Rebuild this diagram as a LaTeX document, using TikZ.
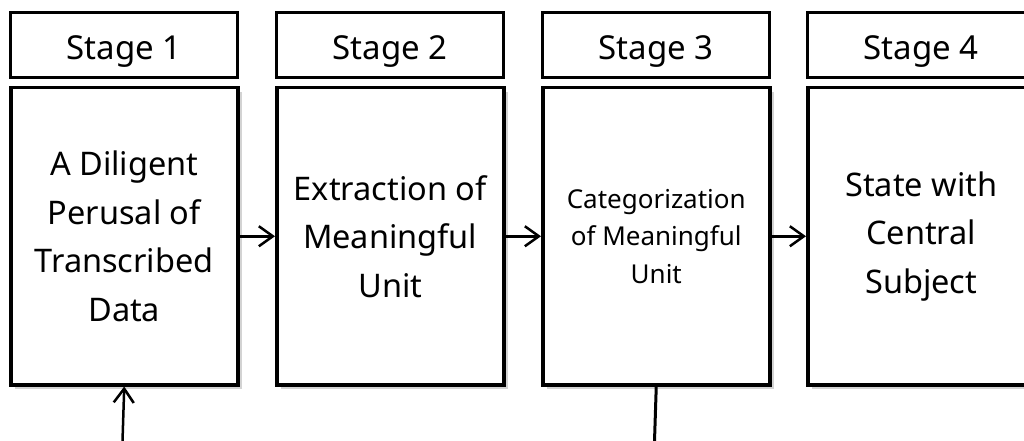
\documentclass[tikz,border=0pt]{standalone}
\usepackage{fontspec}
\setmainfont{Noto Sans}
\usetikzlibrary{arrows.meta,shadows}
\begin{document}
\begin{tikzpicture}[x=1pt,y=-1pt,
 hdr/.style={draw, line width=3pt, minimum width=227pt, minimum height=65pt, anchor=north west, inner sep=0pt, text height=33pt, text depth=4pt, font=\fontsize{33}{36}\selectfont},
 mainbox/.style={draw, fill=white, line width=3.5pt, minimum width=227pt, minimum height=297pt, anchor=north west, align=center, inner sep=0pt, font=\fontsize{32.5}{48.5}\selectfont, drop shadow={shadow xshift=4pt, shadow yshift=-4pt, opacity=0.35}},
 smalltext/.style={font=\fontsize{26}{37.5}\selectfont},
 conn/.style={line width=2.5pt, -{Straight Barb[length=14pt,width=20pt,line width=2.5pt]}},
 plain/.style={line width=3pt}]
\useasboundingbox (0,0) rectangle (1024,441);
\node[hdr] (h1) at (9,11) {Stage 1};
\node[hdr] (h2) at (275,11) {Stage 2};
\node[hdr] (h3) at (541,11) {Stage 3};
\node[hdr] (h4) at (806,11) {Stage 4};
\node[mainbox] (b1) at (9,86) {A Diligent\\Perusal of\\Transcribed\\Data};
\node[mainbox] (b2) at (275,86) {Extraction of\\Meaningful\\Unit};
\node[mainbox, smalltext] (b3) at (541,86) {Categorization\\of Meaningful\\Unit};
\node[mainbox] (b4) at (806,86) {State with\\Central\\Subject};
\draw[conn] (b1.east) -- (b2.west);
\draw[conn] (b2.east) -- (b3.west);
\draw[conn] (b3.east) -- (b4.west);
\coordinate (in1) at (122.5,441);
\coordinate (out3) at (654.5,441);
\draw[conn] (in1) -- (b1.south);
\draw[plain] (b3.south) -- (out3);
\end{tikzpicture}
\end{document}
